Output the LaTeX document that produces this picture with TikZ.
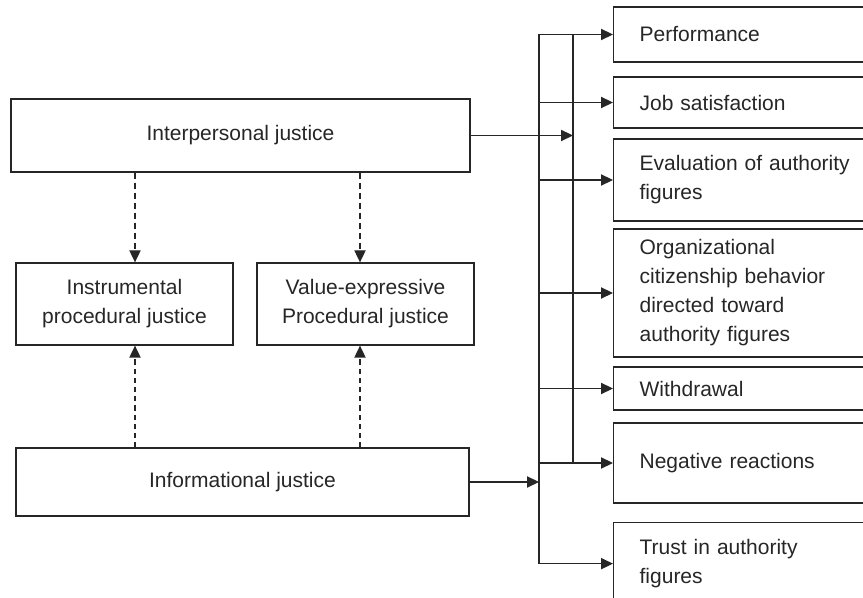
\documentclass[tikz,border=0pt]{standalone}
\usepackage{fontspec}
\setmainfont{Liberation Sans}
\usetikzlibrary{arrows.meta}

\begin{document}
\begin{tikzpicture}[x=0.5pt,y=-0.5pt,
  font=\fontsize{10.5}{14.5}\selectfont,
  line width=0.65pt, color=black!85,
  box/.style={draw, inner sep=0pt, align=center},
  outbox/.style={draw, anchor=west, inner xsep=13pt, inner ysep=0pt,
    text width=115pt, align=left, minimum width=128.5pt},
  arr/.style={-{Triangle[length=6pt,width=5.6pt]}},
  dasharr/.style={arr, dash pattern=on 3.2pt off 1.8pt}]
  \useasboundingbox (0,0) rectangle (863,598);

  % Justice boxes
  \node[box, minimum width=229.5pt, minimum height=36.5pt] (inter) at (240.5,135.5) {Interpersonal justice};
  \node[box, minimum width=108.5pt, minimum height=41pt] (instr) at (124.5,304) {Instrumental\\procedural justice};
  \node[box, minimum width=108.5pt, minimum height=41pt] (value) at (365.5,304) {Value-expressive\\Procedural justice};
  \node[box, minimum width=226.5pt, minimum height=34pt] (info) at (242.5,482) {Informational justice};

  % Dashed links
  \draw[dasharr] (inter.south -| 135,0) -- (instr.north -| 135,0);
  \draw[dasharr] (inter.south -| 360,0) -- (value.north -| 360,0);
  \draw[dasharr, dash pattern=on 2.6pt off 2pt] (info.north -| 135,0) -- (instr.south -| 135,0);
  \draw[dasharr, dash pattern=on 2.6pt off 2pt] (info.north -| 360,0) -- (value.south -| 360,0);

  % Outcome boxes
  \node[outbox, minimum height=27.5pt] (perf) at (613,34.5) {Performance};
  \node[outbox, minimum height=25.5pt] (job) at (613,102.5) {Job satisfaction};
  \node[outbox, minimum height=41pt] (eval) at (613,180) {Evaluation of authority\\figures};
  \node[outbox, minimum height=64pt] (ocb) at (613,293) {Organizational\\citizenship behavior\\directed toward\\authority figures};
  \node[outbox, minimum height=21.5pt] (withd) at (613,388.5) {Withdrawal};
  \node[outbox, minimum height=40pt] (neg) at (613,463) {Negative reactions};
  \node[outbox, anchor=north west, minimum height=41pt] (trust) at (613,522) {Trust in authority\\figures};

  % Bus lines
  \coordinate (busA) at (539,0);
  \coordinate (busB) at (573,0);
  \draw (busA |- perf.west) -- (busA |- trust.west);
  \draw (busB |- perf.west) -- (busB |- neg.west);
  \foreach \b in {perf,job,eval,ocb,withd,neg,trust}
    \draw[arr] (busA |- \b.west) -- (\b.west);

  \draw[arr] (inter.east) -- (inter.east -| busB);
  \draw[arr] (info.east) -- (info.east -| busA);
\end{tikzpicture}
\end{document}
